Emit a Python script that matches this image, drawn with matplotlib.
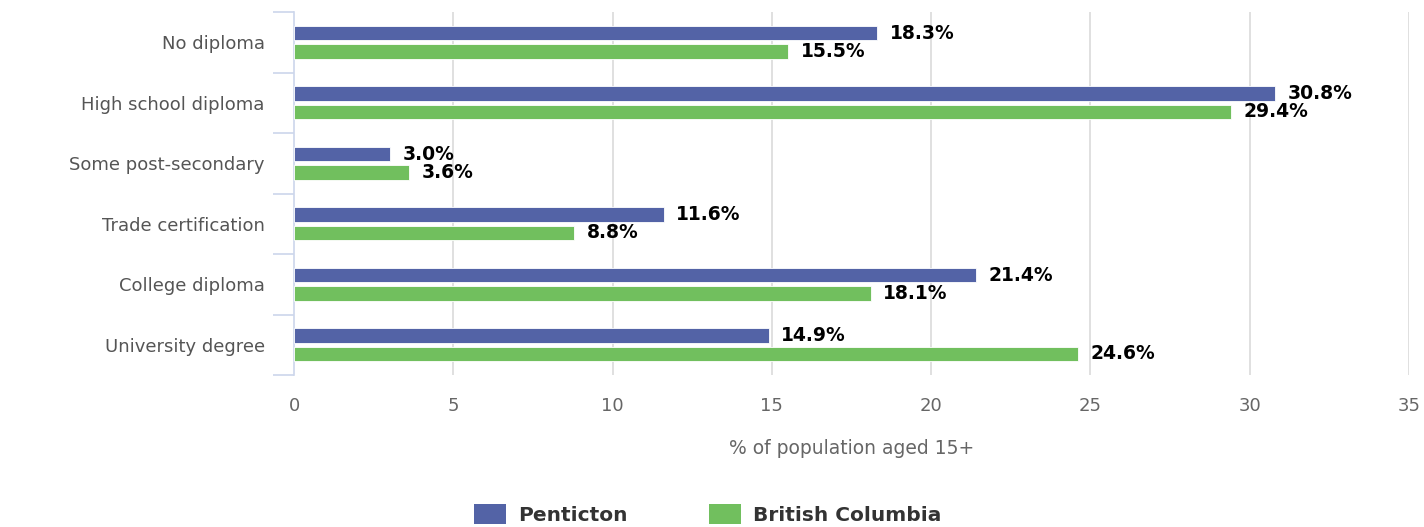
import numpy as np
import matplotlib.pyplot as plt
from matplotlib.patches import Patch

categories = ["No diploma", "High school diploma", "Some post-secondary",
              "Trade certification", "College diploma", "University degree"]
penticton = [18.3, 30.8, 3.0, 11.6, 21.4, 14.9]
bc = [15.5, 29.4, 3.6, 8.8, 18.1, 24.6]
xticks = [0, 5, 10, 15, 20, 25, 30, 35]

blue = "#5363a6"
green = "#71bf5e"

fig = plt.figure(figsize=(14.24, 5.27), dpi=100)
ax = fig.add_axes([294 / 1424, 1 - 375 / 527, 1115 / 1424, 363 / 527])

y = np.arange(len(categories))
h = 0.24
off = 0.15
ax.barh(y - off, penticton, height=h, color=blue, edgecolor="white", linewidth=0.6, zorder=3)
ax.barh(y + off, bc, height=h, color=green, edgecolor="white", linewidth=0.6, zorder=3)

# value labels
for yi, v in zip(y, penticton):
    ax.text(v + 0.4, yi - off, f"{v:.1f}%", va="center", ha="left",
            fontsize=13.5, fontweight="bold", color="black", zorder=4)
for yi, v in zip(y, bc):
    ax.text(v + 0.4, yi + off, f"{v:.1f}%", va="center", ha="left",
            fontsize=13.5, fontweight="bold", color="black", zorder=4)

ax.set_xlim(0, 35)
ax.set_ylim(len(categories) - 0.5, -0.5)
ax.set_xticks(xticks)
ax.set_xticklabels([str(t) for t in xticks])
ax.tick_params(axis="x", length=0, pad=16, labelsize=13, labelcolor="#666666")
ax.set_yticks(y)
ax.set_yticklabels(categories)
ax.tick_params(axis="y", which="major", length=0, pad=21, labelsize=13, labelcolor="#555555")
ax.set_yticks(np.arange(-0.5, len(categories)), minor=True)
ax.tick_params(axis="y", which="minor", length=15, width=1.2, color="#ccd6eb")

for t in xticks[1:]:
    ax.axvline(t, color="#e0e0e0", linewidth=1.4, zorder=1)

for s in ["top", "right", "bottom"]:
    ax.spines[s].set_visible(False)
ax.spines["left"].set_color("#ccd6eb")
ax.spines["left"].set_linewidth(1.2)

ax.set_xlabel("% of population aged 15+", fontsize=13.5, color="#666666", labelpad=17)

handles = [Patch(facecolor=blue, label="Penticton"),
           Patch(facecolor=green, label="British Columbia")]
leg = fig.legend(handles=handles, loc="lower center", bbox_to_anchor=(0.497, -0.03), ncol=2,
                 frameon=False, handlelength=1.6, handleheight=1.2, handletextpad=0.6,
                 columnspacing=4.0, prop={"size": 14.5, "weight": "bold"})
for txt in leg.get_texts():
    txt.set_color("#333333")

fig.savefig("out.png", dpi=100)
